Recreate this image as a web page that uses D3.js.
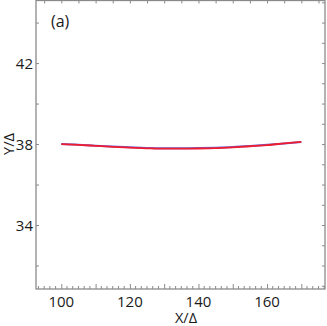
<!DOCTYPE html>
<html><head><meta charset="utf-8">
<script src="https://cdn.jsdelivr.net/npm/d3@7"></script>
<style>html,body{margin:0;padding:0;background:#fff;overflow:hidden}</style>
</head><body>
<script>
const xValues = [100,105,110,115,120,125,130,135,140,145,150,155,160,165,170];
const blueValues = [38.00,37.97,37.92,37.88,37.84,37.81,37.79,37.79,37.80,37.82,37.85,37.90,37.96,38.03,38.10];
const redValues  = [38.00,37.96,37.91,37.86,37.82,37.79,37.77,37.77,37.78,37.80,37.84,37.89,37.95,38.03,38.11];
const xTickLabels = [100,120,140,160];
const yTickLabels = [34,38,42];
const panelLabel = "(a)";
const xTitle = "X/Δ";
const yTitle = "Y/Δ";

const W = 327, H = 326;
const L = 36, R = 325, T = 0.5, B = 289;
const svg = d3.select("body").append("svg").attr("width", W).attr("height", H);
const x = d3.scaleLinear().domain([92.62, 176.9]).range([L, R]);
const y = d3.scaleLinear().domain([30.84, 45.09]).range([B, T]);
const axisCol = "#8a8a8a";
const font = "'Open Sans', sans-serif";

// frame
svg.append("rect").attr("x", L).attr("y", T).attr("width", R - L).attr("height", B - T)
  .attr("fill", "none").attr("stroke", axisCol).attr("stroke-width", 1.3);

// bottom axis: majors every 10, minors every 10/6
const bminor = [];
for (let v = 90; v < 177; v += 10/6) if (v > x.domain()[0] && Math.abs((v - 100) / 10 - Math.round((v - 100) / 10)) > 0.01) bminor.push(v);
const gb = svg.append("g").attr("transform", `translate(0,${B})`);
gb.call(d3.axisBottom(x).tickValues(d3.range(100, 177, 10)).tickSizeInner(-5).tickSizeOuter(0).tickFormat(""));
gb.selectAll("line.minor").data(bminor).enter().append("line").attr("class", "minor")
  .attr("x1", d => x(d)).attr("x2", d => x(d)).attr("y1", 0).attr("y2", -3);
// top axis: every 5
const gt = svg.append("g").attr("transform", `translate(0,${T})`);
gt.call(d3.axisTop(x).tickValues(d3.range(95, 177, 5)).tickSizeInner(-3).tickSizeOuter(0).tickFormat(""));
// left axis: every 2
const gl = svg.append("g").attr("transform", `translate(${L},0)`);
gl.call(d3.axisLeft(y).tickValues(d3.range(32, 45, 2)).tickSizeInner(-3).tickSizeOuter(0).tickFormat(""));
// right axis: every 1
const gr = svg.append("g").attr("transform", `translate(${R},0)`);
gr.call(d3.axisRight(y).tickValues(d3.range(31, 46, 1)).tickSizeInner(-3).tickSizeOuter(0).tickFormat(""));
svg.selectAll(".domain").remove();
svg.selectAll("g line").attr("stroke", axisCol).attr("stroke-width", 1);

// tick labels
svg.append("g").selectAll("text").data(xTickLabels).enter().append("text")
  .attr("x", d => x(d)).attr("y", B + 18).attr("text-anchor", "middle")
  .attr("font-family", font).attr("font-size", 15).attr("fill", "#1a1a1a").text(d => d);
svg.append("g").selectAll("text").data(yTickLabels).enter().append("text")
  .attr("x", L - 3).attr("y", d => y(d) + 5.5).attr("text-anchor", "end")
  .attr("font-family", font).attr("font-size", 15).attr("fill", "#1a1a1a").text(d => d);

// titles
svg.append("text").attr("x", 186).attr("y", 323).attr("text-anchor", "middle")
  .attr("font-family", font).attr("font-size", 14.5).attr("fill", "#1a1a1a").text(xTitle);
svg.append("text").attr("transform", `translate(14,${y(38)}) rotate(-90)`).attr("text-anchor", "middle")
  .attr("font-family", font).attr("font-size", 14.5).attr("fill", "#1a1a1a").text(yTitle);
svg.append("text").attr("x", 51).attr("y", 27).attr("font-family", font).attr("font-size", 16)
  .attr("fill", "#1a1a1a").text(panelLabel);

// lines
const line = vals => d3.line().x((d, i) => x(xValues[i])).y(d => y(d)).curve(d3.curveMonotoneX)(vals);
svg.append("path").attr("d", line(blueValues)).attr("fill", "none").attr("stroke", "#6a66d8").attr("stroke-width", 2);
svg.append("path").attr("d", line(redValues)).attr("fill", "none").attr("stroke", "#f01c30").attr("stroke-width", 1.8);
</script>
</body></html>
